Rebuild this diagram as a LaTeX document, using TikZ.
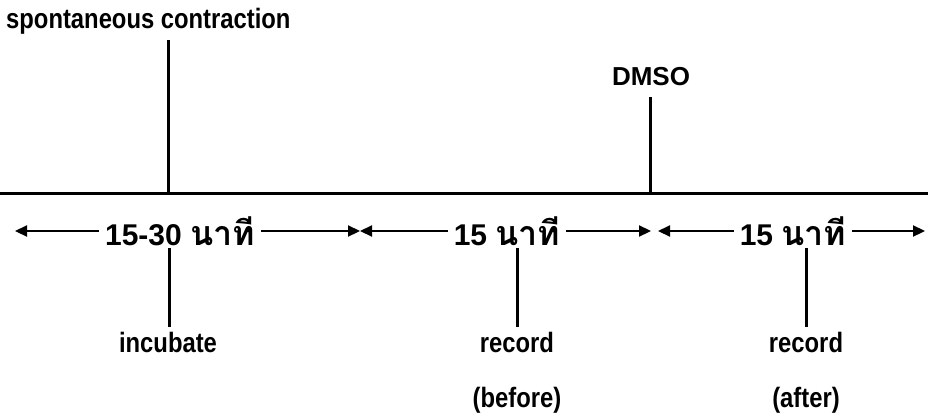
\documentclass[tikz,border=0pt]{standalone}
\usepackage{fontspec}
\setmainfont{Liberation Sans}
\newfontfamily\narrowfont[FakeStretch=0.85]{Liberation Sans}
\newfontfamily\thaifont[Script=Thai]{Loma}
\usetikzlibrary{arrows.meta}
\tikzset{
  lab/.style={font=\narrowfont\bfseries\fontsize{28}{30}\selectfont, inner sep=0pt},
  dur/.style={font=\bfseries\fontsize{30}{32}\selectfont, inner xsep=6pt, inner ysep=0pt, anchor=base},
  ln/.style={line width=3pt},
  arr/.style={line width=2.2pt, -{Triangle[length=12pt,width=11pt]}},
}
\newcommand{\nathi}{{\thaifont\bfseries\fontsize{34}{34}\selectfont นาที}}
\begin{document}
\begin{tikzpicture}[x=1pt,y=-1pt]
\useasboundingbox (0,0) rectangle (928,415);
% baseline
\coordinate (L) at (0,193);
\coordinate (R) at (928,193);
\draw[ln] (L) -- (R);
% top labels
\node[lab, anchor=base west] (sc) at (6,28) {spontaneous contraction};
\coordinate (sctop) at (168,40);
\draw[ln] (sctop) -- (sctop |- L);
\node[lab, font=\bfseries\fontsize{26}{28}\selectfont, anchor=base] (dmso) at (651,85) {DMSO};
\coordinate (dtop) at (650,97);
\draw[ln] (dtop) -- (dtop |- L);
% durations
\node[dur] (t1) at (180,245) {15-30 \nathi};
\node[dur] (t2) at (507,245) {15 \nathi};
\node[dur] (t3) at (793,245) {15 \nathi};
\coordinate (a0) at (15,231);
\coordinate (a1) at (360,231);
\coordinate (a2) at (651,231);
\coordinate (a2b) at (658,231);
\coordinate (a3) at (925,231);
\draw[arr] (t1.west |- a0) -- (a0);
\draw[arr] (t1.east |- a0) -- (a1);
\draw[arr] (t2.west |- a1) -- (a1);
\draw[arr] (t2.east |- a1) -- (a2);
\draw[arr] (t3.west |- a2b) -- (a2b);
\draw[arr] (t3.east |- a3) -- (a3);
% lower labels
\node[lab, anchor=base] (inc) at (168,352) {incubate};
\node[lab, anchor=base] (rec1) at (517,352) {record};
\node[lab, anchor=base] (rec2) at (806,352) {record};
\node[lab, anchor=base] (bef) at (517,407) {(before)};
\node[lab, anchor=base] (aft) at (806,407) {(after)};
\coordinate (d1) at (169,248);
\coordinate (d2) at (517,248);
\coordinate (d3) at (806,248);
\draw[ln] (d1) -- (d1 |- 0,327);
\draw[ln] (d2) -- (d2 |- 0,327);
\draw[ln] (d3) -- (d3 |- 0,327);
\end{tikzpicture}
\end{document}
